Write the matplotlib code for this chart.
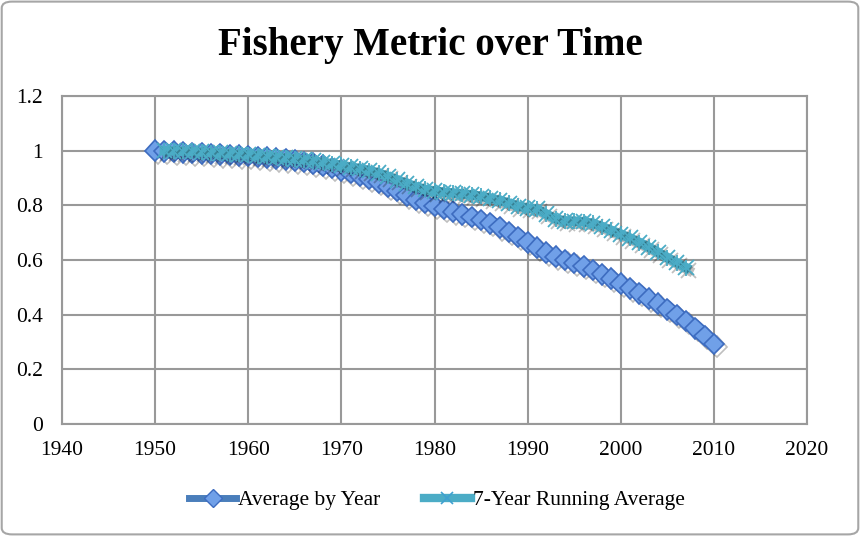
import matplotlib
matplotlib.use("Agg")
import matplotlib.pyplot as plt
import matplotlib.patheffects as pe
from matplotlib.patches import FancyBboxPatch
from matplotlib.lines import Line2D

years_avg = list(range(1950, 2011))
avg_by_year = [1.000, 0.998, 0.996, 0.994, 0.992, 0.990, 0.988, 0.986, 0.984, 0.982,
               0.980, 0.977, 0.974, 0.971, 0.968, 0.964, 0.958, 0.952, 0.945, 0.937,
               0.928, 0.918, 0.908, 0.897, 0.884, 0.868, 0.852, 0.836, 0.821, 0.808,
               0.797, 0.787, 0.777, 0.767, 0.757, 0.746, 0.734, 0.719, 0.702, 0.684,
               0.665, 0.645, 0.627, 0.612, 0.600, 0.589, 0.577, 0.563, 0.548, 0.532,
               0.514, 0.496, 0.478, 0.459, 0.440, 0.420, 0.399, 0.377, 0.350, 0.322,
               0.293]

years_run = list(range(1951, 2008))
running_avg = [1.000, 0.999, 0.998, 0.997, 0.995, 0.993, 0.991, 0.989, 0.987,
               0.985, 0.982, 0.979, 0.976, 0.973, 0.970, 0.966, 0.962, 0.957, 0.952,
               0.946, 0.940, 0.934, 0.927, 0.918, 0.906, 0.893, 0.880, 0.868, 0.858,
               0.852, 0.848, 0.845, 0.842, 0.838, 0.833, 0.826, 0.818, 0.808, 0.797,
               0.790, 0.787, 0.768, 0.750, 0.743, 0.742, 0.740, 0.734, 0.722, 0.708,
               0.694, 0.680, 0.664, 0.647, 0.628, 0.609, 0.590, 0.572]

x_ticks = [1940, 1950, 1960, 1970, 1980, 1990, 2000, 2010, 2020]
y_ticks = [0, 0.2, 0.4, 0.6, 0.8, 1.0, 1.2]
y_tick_labels = ["0", "0.2", "0.4", "0.6", "0.8", "1", "1.2"]

serif = ["Liberation Serif", "DejaVu Serif"]
blue_line = "#4a7ebb"
teal = "#4bacc6"

fig = plt.figure(figsize=(8.6, 5.36), dpi=100)
border = FancyBboxPatch((0.002, 0.003), 0.996, 0.994, boxstyle="round,pad=0,rounding_size=0.012",
                        transform=fig.transFigure, facecolor="white", edgecolor="#a6a6a6",
                        linewidth=1.5, zorder=-10)
fig.patches.append(border)

ax = fig.add_axes([62/860, 1-424/536, (807-62)/860, (424-96)/536])
ax.set_xlim(1940, 2020)
ax.set_ylim(0, 1.2)
ax.set_xticks(x_ticks)
ax.set_yticks(y_ticks)
ax.set_yticklabels(y_tick_labels)
ax.grid(True, color="#999999", linewidth=1.5)
ax.set_axisbelow(True)
for s in ax.spines.values():
    s.set_color("#999999")
    s.set_linewidth(1.5)
ax.tick_params(length=0, labelsize=15.5)
ax.tick_params(axis="x", pad=12)
ax.tick_params(axis="y", pad=13.5)
for lab in ax.get_xticklabels() + ax.get_yticklabels():
    lab.set_family(serif)

shadow = [pe.SimpleLineShadow(offset=(2, -2), alpha=0.25, shadow_color="black"), pe.Normal()]

ax.plot(years_avg, avg_by_year, color=blue_line, linewidth=5, marker="D", markersize=10.5,
        markerfacecolor="#70a0e8", markeredgecolor="#3d6cc0", markeredgewidth=1.2,
        path_effects=shadow, zorder=3, clip_on=False)
ax.plot(years_run, running_avg, color=teal, linewidth=7, marker="x", markersize=11,
        markeredgecolor=teal, markeredgewidth=1.3,
        path_effects=shadow, zorder=4, clip_on=False)
ax.plot(years_run, running_avg, linestyle="none", marker="|", markersize=12,
        markeredgecolor=teal, markeredgewidth=1.3, zorder=4, clip_on=False)

h1 = Line2D([], [], color=blue_line, linewidth=5, marker="D", markersize=9,
            markerfacecolor="#70a0e8", markeredgecolor="#3d6cc0", markeredgewidth=1.0)
h2 = Line2D([], [], color=teal, linewidth=6, marker="x", markersize=9,
            markeredgecolor="#3fa0d0", markeredgewidth=1.2)

fig.text(0.5, 1-46/536, "Fishery Metric over Time", ha="center", va="center",
         fontsize=28, fontweight="bold", family=serif)

leg = fig.legend([h1, h2], ["Average by Year", "7-Year Running Average"],
                 loc="center", bbox_to_anchor=(437/860, 1-500/536), ncol=2, frameon=False,
                 prop={"family": serif, "size": 15.5}, handlelength=2.2, handletextpad=0.1,
                 columnspacing=2.0)

fig.savefig("out.png", dpi=100)
